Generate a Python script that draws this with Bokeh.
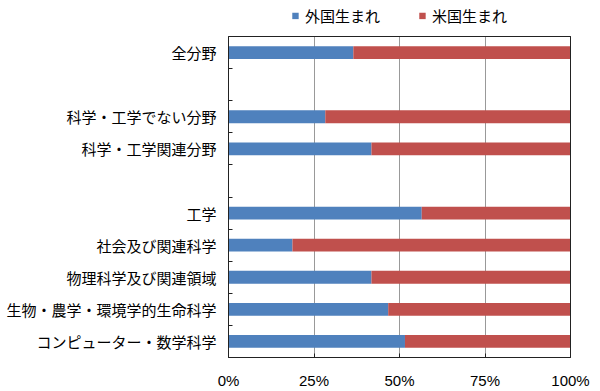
from bokeh.plotting import figure
from bokeh.layouts import column
from bokeh.models import (ColumnDataSource, FixedTicker, PrintfTickFormatter,
                          Legend, LegendItem, Range1d, LinearAxis)
from bokeh.embed import file_html
from bokeh.resources import INLINE

# ---- data (top to bottom; "" = blank spacer row) ----
categories = ["全分野", "", "科学・工学でない分野", "科学・工学関連分野", "",
              "工学", "社会及び関連科学", "物理科学及び関連領域",
              "生物・農学・環境学的生命科学", "コンピューター・数学科学"]
foreign_born = [36.5, None, 28.3, 41.8, None, 56.5, 18.7, 41.8, 46.7, 51.6]
us_born = [63.5, None, 71.7, 58.2, None, 43.5, 81.3, 58.2, 53.3, 48.4]
series_names = ["外国生まれ", "米国生まれ"]
x_ticks = [0, 25, 50, 75, 100]
colors = ["#4F81BD", "#C0504D"]

n = len(categories)
ys, fvals, uvals = [], [], []
for i, (c, f, u) in enumerate(zip(categories, foreign_born, us_born)):
    if f is None:
        continue
    ys.append(n - i - 0.5)
    fvals.append(f)
    uvals.append(u)
src = ColumnDataSource(dict(y=ys, foreign=fvals, us=uvals))

W, H_LEG, H_MAIN = 600, 30, 361
AX = "#222222"

p = figure(width=W, height=H_MAIN, output_backend="svg", toolbar_location=None,
           x_range=Range1d(0, 100), y_range=Range1d(0, n),
           min_border_left=228, min_border_right=30, min_border_top=6,
           min_border_bottom=33)
p.background_fill_color = "white"
p.border_fill_color = "white"
p.outline_line_color = AX

renderers = p.hbar_stack(["foreign", "us"], y="y", height=0.4, color=colors,
                         line_color=None, source=src)

# x axis
p.xaxis.ticker = FixedTicker(ticks=x_ticks)
p.xaxis.formatter = PrintfTickFormatter(format="%d%%")
p.xaxis.major_tick_in = 4
p.xaxis.major_tick_out = 0
p.xaxis.minor_tick_line_color = None
p.xaxis.axis_line_color = AX
p.xaxis.major_tick_line_color = AX
p.xaxis.major_label_text_font = "Liberation Sans"
p.xaxis.major_label_text_font_size = "15px"
p.xaxis.major_label_text_color = "black"
p.xaxis.major_label_standoff = 14

# y axis: labels at row centres, tick marks at row boundaries
label_pos = [n - i - 0.5 for i, c in enumerate(categories) if c]
p.yaxis.ticker = FixedTicker(ticks=label_pos, minor_ticks=list(range(1, n)))
p.yaxis.major_label_overrides = {n - i - 0.5: c for i, c in enumerate(categories) if c}
p.yaxis.major_tick_in = 0
p.yaxis.major_tick_out = 0
p.yaxis.minor_tick_in = 4
p.yaxis.minor_tick_out = 0
p.yaxis.minor_tick_line_color = AX
p.yaxis.axis_line_color = AX
p.yaxis.major_label_text_font = "Noto Sans CJK JP"
p.yaxis.major_label_text_font_size = "15px"
p.yaxis.major_label_text_color = "black"
p.yaxis.major_label_standoff = 12

p.xgrid.ticker = FixedTicker(ticks=x_ticks[1:-1])
p.xgrid.grid_line_color = "#999999"
p.ygrid.grid_line_color = None

# frame border on top and right (plain axes without ticks or labels)
for side in ("above", "right"):
    ax = LinearAxis(ticker=FixedTicker(ticks=[]), axis_line_color=AX,
                    axis_line_width=1,
                    major_tick_in=0, major_tick_out=0,
                    minor_tick_in=0, minor_tick_out=0,
                    major_label_standoff=0)
    p.add_layout(ax, side)

# ---- legend strip above the chart ----
lf = figure(width=W, height=H_LEG, output_backend="svg", toolbar_location=None,
            x_range=Range1d(0, 100), y_range=Range1d(0, 1),
            x_axis_location=None, y_axis_location=None,
            min_border_left=228, min_border_right=30, min_border_top=0,
            min_border_bottom=0)
lf.outline_line_color = None
lf.grid.grid_line_color = None
lf.background_fill_color = "white"
lf.border_fill_color = "white"
dummy = lf.hbar_stack(["foreign", "us"], y="y", height=0.4, color=colors,
                      line_color=None, source=src)
for r in dummy:
    r.visible = False

legend = Legend(items=[LegendItem(label=series_names[k], renderers=[dummy[k]])
                       for k in range(2)],
                orientation="horizontal", location="center",
                glyph_width=8, glyph_height=8, label_height=16,
                label_text_font="Noto Sans CJK JP", label_text_font_size="15px",
                label_text_color="black",
                label_standoff=6, spacing=38, padding=0, margin=0,
                border_line_color=None, background_fill_alpha=0)
lf.add_layout(legend)

layout = column(lf, p, spacing=0)
open("out.html", "w").write(file_html(layout, INLINE))
